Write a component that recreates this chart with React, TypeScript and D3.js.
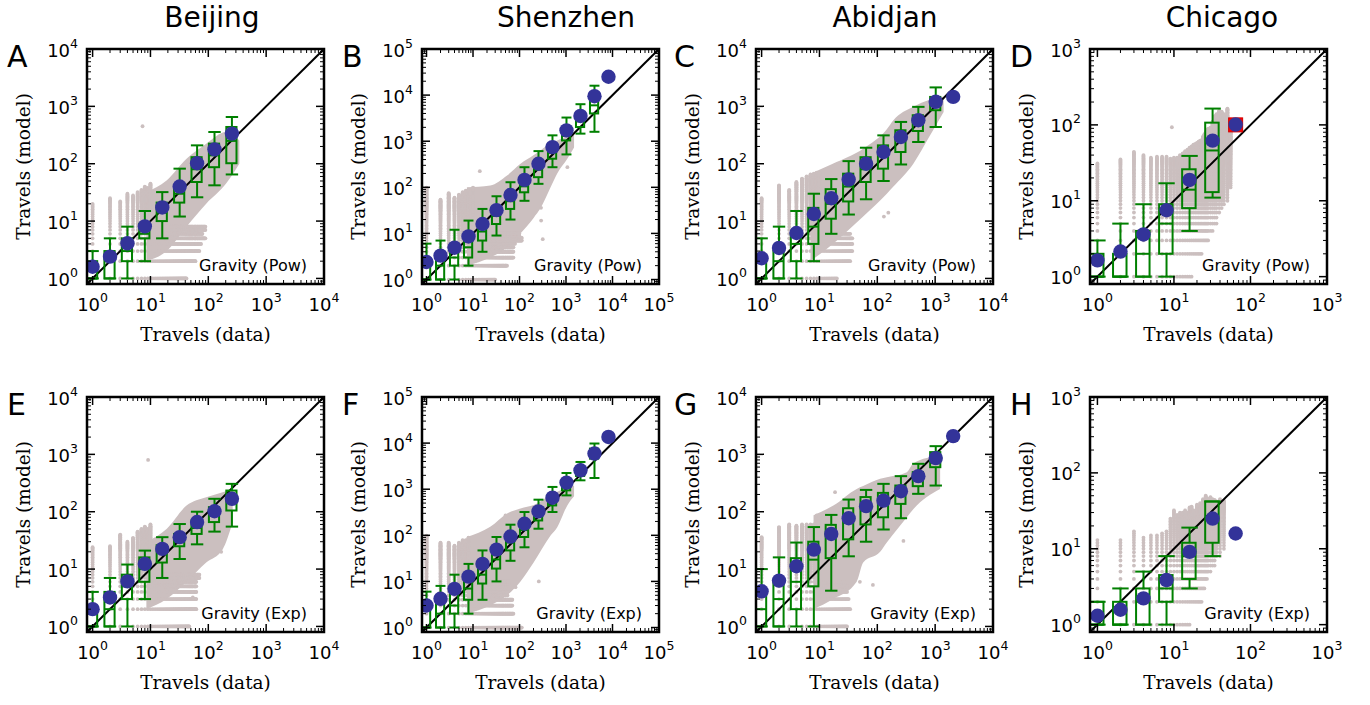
import React from "react";
import * as d3 from "d3";

type Box = [number, number, number, number, number, number]; // x, lo, q1, med, q3, hi
type P2 = [number, number];
type P3 = [number, number, number];

const cities = ["Beijing", "Shenzhen", "Abidjan", "Chicago"];
const panelLetters = ["A", "B", "C", "D", "E", "F", "G", "H"];
const modelLabels = ["Gravity (Pow)", "Gravity (Exp)"];
const cityMax = [1e4, 1e5, 1e4, 1e3];
const axisMin = 0.8;

// ---------- A: Beijing, Gravity (Pow)
const beijingPowBoxes: Box[] = [
  [1, 1, 1, 1, 2, 3], [2, 1, 1, 2, 3, 5], [4, 1, 2, 3, 5, 8], [8, 2, 5, 6, 9, 15],
  [16, 5, 10, 14, 21, 32], [32, 12, 21, 30, 42, 82], [64, 26, 48, 80, 130, 209],
  [128, 42, 87, 140, 224, 357], [256, 65, 102, 250, 437, 653],
];
const beijingPowMeans: P2[] = [[1, 1.6], [2, 2.4], [4, 4.1], [8, 8.1], [16, 17.3], [32, 40], [64, 102], [128, 178], [256, 335]];
const beijingPowCols: P3[] = [[1, 1, 20], [2, 1, 25], [3, 1, 22], [4, 1, 30], [5, 1, 28], [6, 1, 32], [7, 1, 35], [8, 1, 40], [9, 1, 38], [10, 1, 45]];
const beijingPowRows: P3[] = [[1, 1, 42], [2, 1, 60], [3, 1, 70], [4, 1, 75], [5, 1, 90], [6, 1, 80], [7, 1, 90], [8, 1, 90]];
const beijingPowCloud: P3[] = [[8.5, 2, 32], [19, 3, 51], [42, 8, 122], [92, 20, 224], [203, 45, 357], [344, 100, 255]];
const beijingPowOut: P2[] = [[7.3, 450], [88, 5]];

// ---------- B: Shenzhen, Gravity (Pow)
const shenzhenPowBoxes: Box[] = [
  [1, 1, 1, 1, 2, 6], [2, 1, 1, 2, 3, 7], [4, 1, 2, 3, 5, 12], [8, 2, 3, 5, 8, 19],
  [16, 4, 7, 11, 15, 34], [32, 9, 16, 24, 33, 64], [64, 20, 34, 50, 70, 129],
  [128, 51, 78, 105, 140, 273], [256, 119, 166, 240, 334, 610], [512, 273, 417, 560, 745, 1340],
  [1024, 517, 1040, 1300, 1720, 3260], [2048, 1460, 2030, 2700, 3660, 6350], [4096, 1600, 4000, 6000, 10000, 16000],
];
const shenzhenPowMeans: P2[] = [[1, 2.4], [2, 3.3], [4, 4.9], [8, 8.6], [16, 16], [32, 32], [64, 68], [128, 145], [256, 324], [512, 746], [1024, 1722], [2048, 3530], [4096, 9480], [8192, 25000]];
const shenzhenPowCols: P3[] = [[1, 1, 100], [2, 1, 55], [3, 1, 75], [4, 1, 60], [5, 1, 70], [6, 1, 80], [7, 1, 85], [8, 1, 90], [9, 1, 90], [10, 1, 100]];
const shenzhenPowRows: P3[] = [[1, 1, 30], [2, 1, 54], [3, 1, 75], [4, 1, 75], [5, 1, 75], [6, 1, 80], [7, 1, 113], [8, 1, 113], [9, 1, 100], [10, 1, 100]];
const shenzhenPowCloud: P3[] = [[7.4, 2, 100], [23.5, 3, 109], [54, 5, 180], [105, 10, 324], [203, 22, 500], [283, 35, 632], [466, 100, 900], [648, 200, 1040], [1067, 417, 1300], [1490, 730, 1460]];
const shenzhenPowOut: P2[] = [[292, 19], [316, 7.5], [290, 36], [1070, 273], [14, 224]];

// ---------- C: Abidjan, Gravity (Pow)
const abidjanPowBoxes: Box[] = [
  [1, 1, 1, 1, 2, 5], [2, 1, 1, 2, 3, 8], [4, 1, 2, 4, 6, 15], [8, 2, 4, 8, 17, 30],
  [16, 6, 11, 20, 36, 54], [32, 13, 22, 40, 67, 111], [64, 24, 48, 80, 130, 190],
  [128, 50, 82, 150, 209, 312], [256, 97, 160, 290, 383, 535], [512, 239, 372, 550, 700, 980],
  [1024, 437, 857, 1100, 1460, 2140],
];
const abidjanPowMeans: P2[] = [[1, 2.25], [2, 3.4], [4, 6.2], [8, 13.3], [16, 25], [32, 53], [64, 100], [128, 160], [256, 292], [512, 572], [1024, 1200], [2048, 1465]];
const abidjanPowCols: P3[] = [[1, 1, 25], [2, 1, 42], [3, 1, 35], [4, 1, 48], [5, 1, 55], [6, 1, 60], [7, 1, 65], [8, 1, 67], [9, 1, 70], [10, 1, 70]];
const abidjanPowRows: P3[] = [[1, 1, 20], [2, 1, 34], [3, 1, 37], [4, 1, 37], [5, 1, 37], [6, 1, 34]];
const abidjanPowCloud: P3[] = [[7, 2, 67], [17, 4, 100], [57, 12, 183], [146, 30, 400], [190, 40, 572], [420, 100, 980], [800, 300, 1300], [1400, 800, 1465]];
const abidjanPowOut: P2[] = [[155, 14], [130, 12]];

// ---------- D: Chicago, Gravity (Pow)
const chicagoPowBoxes: Box[] = [
  [1, 1, 1, 1, 2, 3], [2, 1, 1, 1, 2, 5], [4, 1, 1, 2, 4, 9], [8, 1, 2, 5, 9, 17],
  [16, 4, 8, 14, 26, 39], [32, 11, 13, 46, 107, 164],
];
const chicagoPowMeans: P2[] = [[1, 1.64], [2, 2.14], [4, 3.6], [8, 7.5], [16, 18.8], [32, 62], [64, 101]];
const chicagoPowCols: P3[] = [
  [1, 1, 31], [2, 1, 35], [3, 1, 44], [4, 1, 40], [5, 1, 37], [6, 1, 38], [7, 1, 38], [8, 1, 38], [9, 1, 36],
  [10, 1, 37], [11, 1, 37], [12, 1, 40], [13, 1, 42], [14, 1, 45], [15, 1, 47], [16, 1, 50], [17, 1, 52],
  [18, 2, 55], [19, 2, 56], [20, 2, 58], [21, 2, 60], [22, 2, 62], [23, 2, 63], [24, 3, 70], [25, 3, 75],
  [26, 3, 80], [27, 3, 85], [28, 3, 90], [30, 4, 93], [32, 4, 110], [34, 5, 130], [36, 5, 140], [39, 7, 155],
  [42, 8, 150], [45, 9, 140], [50, 10, 164], [55, 15, 100],
];
const chicagoPowRows: P3[] = [];
const chicagoPowCloud: P3[] = [];
const chicagoPowOut: P2[] = [[9.4, 93]];
const chicagoPowRed: P2[] = [[64, 100]];

// ---------- E: Beijing, Gravity (Exp)
const beijingExpBoxes: Box[] = [
  [1, 1, 1, 1, 2, 4], [2, 1, 1, 2, 4, 7], [4, 1, 3, 5, 8, 12], [8, 3, 6, 10, 16, 21],
  [16, 7, 13, 20, 26, 36], [32, 15, 25, 33, 41, 61], [64, 27, 41, 52, 70, 100],
  [128, 45, 66, 90, 120, 168], [256, 55, 105, 160, 234, 306],
];
const beijingExpMeans: P2[] = [[1, 2.0], [2, 3.2], [4, 6.1], [8, 12.3], [16, 22.5], [32, 36], [64, 66], [128, 102], [256, 168]];
const beijingExpCols: P3[] = [[1, 1, 24], [2, 1, 25], [3, 1, 40], [4, 1, 30], [5, 1, 35], [6, 1, 45], [7, 1, 50], [8, 1, 55], [9, 1, 50], [10, 1, 60]];
const beijingExpRows: P3[] = [[1, 1, 47], [2, 1, 62], [3, 1, 62], [4, 1, 62], [5, 1, 62], [6, 1, 62], [7, 1, 70], [8, 1, 70]];
const beijingExpCloud: P3[] = [[8.5, 2, 30], [19, 3, 50], [42, 6, 128], [92, 13, 179], [177, 22, 219], [264, 66, 250]];
const beijingExpOut: P2[] = [[9.1, 800], [54, 3.2], [167, 20]];

// ---------- F: Shenzhen, Gravity (Exp)
const shenzhenExpBoxes: Box[] = [
  [1, 1, 1, 1, 3, 6], [2, 1, 1, 2, 4, 8], [4, 1, 2, 3, 6, 14], [8, 2, 4, 7, 11, 24],
  [16, 4, 9, 14, 26, 47], [32, 10, 19, 30, 53, 92], [64, 28, 47, 70, 99, 170],
  [128, 55, 92, 130, 187, 320], [256, 139, 210, 280, 378, 593], [512, 320, 445, 560, 735, 1120],
  [1024, 735, 944, 1150, 1435, 2250], [2048, 1560, 1940, 2400, 2940, 3900], [4096, 1750, 4600, 5500, 7600, 9800],
];
const shenzhenExpMeans: P2[] = [[1, 3.0], [2, 4.2], [4, 6.9], [8, 12.7], [16, 24], [32, 49], [64, 94], [128, 178], [256, 330], [512, 655], [1024, 1390], [2048, 2570], [4096, 5930], [8192, 13600]];
const shenzhenExpCols: P3[] = [[1, 1, 100], [2, 1, 70], [3, 1, 70], [4, 1, 60], [5, 1, 70], [6, 1, 80], [7, 1, 80], [8, 1, 90]];
const shenzhenExpRows: P3[] = [[1, 1, 114], [2, 1, 75], [3, 1, 70], [4, 1, 70], [5, 1, 55], [6, 1, 55], [7, 1, 60], [8, 1, 60], [9, 1, 60], [10, 1, 60]];
const shenzhenExpCloud: P3[] = [[7.4, 2, 92], [23.5, 3, 153], [54, 5, 298], [105, 10, 383], [203, 26, 452], [466, 99, 750], [648, 150, 877], [1067, 445, 1100], [1490, 700, 1210]];
const shenzhenExpOut: P2[] = [[260, 10], [82, 7.5], [50, 270]];

// ---------- G: Abidjan, Gravity (Exp)
const abidjanExpBoxes: Box[] = [
  [1, 1, 1, 2, 4, 10], [2, 1, 1, 3, 6, 16], [4, 1, 2, 6, 15.5, 29], [8, 1, 5, 14.6, 30, 54],
  [16, 4.2, 15.5, 35, 59, 88], [32, 16.7, 33, 70, 115, 163], [64, 30, 60, 110, 180, 240],
  [128, 49, 80, 140, 213, 306], [256, 77, 137, 200, 286, 417], [512, 205, 279, 360, 490, 684],
  [1024, 286, 598, 850, 1094, 1390],
];
const abidjanExpMeans: P2[] = [[1, 4.1], [2, 6.3], [4, 11.2], [8, 21.8], [16, 41], [32, 77], [64, 125], [128, 156], [256, 228], [512, 417], [1024, 860], [2048, 2080]];
const abidjanExpCols: P3[] = [[1, 1, 36], [2, 1, 54], [3, 1, 60], [4, 1, 57], [5, 1, 60], [6, 1, 60], [7, 1, 60], [8, 1, 60], [9, 1, 86], [10, 1, 86]];
const abidjanExpRows: P3[] = [[1, 1, 30], [2, 1, 34], [3, 1, 32], [4, 1, 30], [5, 1, 30], [6, 1, 28]];
const abidjanExpCloud: P3[] = [[7.9, 2, 87], [17.4, 3, 128], [44, 6, 250], [57, 13, 280], [112, 20, 374], [146, 29, 400], [324, 80, 490], [422, 112, 700], [1220, 250, 955]];
const abidjanExpOut: P2[] = [[84, 5.3], [50, 6], [283, 31], [18.6, 219]];

// ---------- H: Chicago, Gravity (Exp)
const chicagoExpBoxes: Box[] = [
  [1, 1, 1, 1, 2, 2], [2, 1, 1, 1, 2, 3], [4, 1, 1, 2, 3, 5], [8, 1, 2, 3, 4.5, 8],
  [16, 3, 4, 8, 12, 19], [32, 8, 12, 25, 42, 42],
];
const chicagoExpMeans: P2[] = [[1, 1.31], [2, 1.57], [4, 2.22], [8, 3.87], [16, 9.1], [32, 25], [64, 15.9]];
const chicagoExpCols: P3[] = [
  [1, 1, 13], [2, 1, 13], [3, 1, 17], [4, 1, 14], [5, 1, 15], [6, 1, 15], [7, 1, 16], [8, 1, 17], [9, 1, 25],
  [10, 1, 32], [11, 1, 28], [12, 1, 30], [13, 1, 30], [14, 1, 32], [15, 1, 30], [16, 1, 35], [17, 2, 36],
  [18, 2, 32], [19, 2, 30], [20, 2, 38], [21, 2, 36], [22, 2, 40], [23, 2, 38], [24, 3, 45], [25, 3, 42],
  [26, 4, 50], [27, 4, 46], [28, 5, 45], [30, 5, 48], [32, 6, 45], [34, 6, 44], [36, 8, 42], [40, 8, 45], [45, 10, 43],
];
const chicagoExpRows: P3[] = [];
const chicagoExpCloud: P3[] = [];
const chicagoExpOut: P2[] = [];

// ---------- layout
const panelLeft = [87, 422, 756, 1090];
const rowTop = [49, 397];
const panelW = 237;
const panelH = 235;
const titleX = [212, 566, 885, 1222];
const letterX = [7, 342, 674, 1010];

const GRAY = "#cbbfbf";
const GREEN = "#008000";
const BLUE = "#333399";

interface PanelSpec {
  boxes: Box[]; means: P2[]; cols: P3[]; rows: P3[]; cloud: P3[]; out: P2[]; red?: P2[];
}

const panels: PanelSpec[] = [
  { boxes: beijingPowBoxes, means: beijingPowMeans, cols: beijingPowCols, rows: beijingPowRows, cloud: beijingPowCloud, out: beijingPowOut },
  { boxes: shenzhenPowBoxes, means: shenzhenPowMeans, cols: shenzhenPowCols, rows: shenzhenPowRows, cloud: shenzhenPowCloud, out: shenzhenPowOut },
  { boxes: abidjanPowBoxes, means: abidjanPowMeans, cols: abidjanPowCols, rows: abidjanPowRows, cloud: abidjanPowCloud, out: abidjanPowOut },
  { boxes: chicagoPowBoxes, means: chicagoPowMeans, cols: chicagoPowCols, rows: chicagoPowRows, cloud: chicagoPowCloud, out: chicagoPowOut, red: chicagoPowRed },
  { boxes: beijingExpBoxes, means: beijingExpMeans, cols: beijingExpCols, rows: beijingExpRows, cloud: beijingExpCloud, out: beijingExpOut },
  { boxes: shenzhenExpBoxes, means: shenzhenExpMeans, cols: shenzhenExpCols, rows: shenzhenExpRows, cloud: shenzhenExpCloud, out: shenzhenExpOut },
  { boxes: abidjanExpBoxes, means: abidjanExpMeans, cols: abidjanExpCols, rows: abidjanExpRows, cloud: abidjanExpCloud, out: abidjanExpOut },
  { boxes: chicagoExpBoxes, means: chicagoExpMeans, cols: chicagoExpCols, rows: chicagoExpRows, cloud: chicagoExpCloud, out: chicagoExpOut },
];

const SANS = "DejaVu Sans, sans-serif";
const SERIF = "DejaVu Serif, serif";

function isMajor(t: number) {
  const l = Math.log10(t);
  return Math.abs(l - Math.round(l)) < 1e-6;
}

function Panel({ spec, idx }: { spec: PanelSpec; idx: number }) {
  const row = Math.floor(idx / 4);
  const col = idx % 4;
  const x0 = panelLeft[col];
  const y0 = rowTop[row];
  const vmax = cityMax[col];
  const x = d3.scaleLog().domain([axisMin, vmax]).range([x0, x0 + panelW]);
  const y = d3.scaleLog().domain([axisMin, vmax]).range([y0 + panelH, y0]);
  const clipId = `clip-${idx}`;

  const seen = new Set<string>();
  const pts: P2[] = [];
  const add = (a: number, b: number) => {
    const px = x(a), py = y(b);
    const k = Math.round(px * 2) + "," + Math.round(py * 2);
    if (!seen.has(k)) { seen.add(k); pts.push([px, py]); }
  };
  spec.cols.forEach(([cx, lo, hi]) => { for (let v = Math.ceil(lo); v <= hi; v++) add(cx, v); });
  spec.rows.forEach(([ry, lo, hi]) => { for (let v = Math.ceil(lo); v <= hi; v++) add(v, ry); });
  spec.out.forEach(([a, b]) => add(a, b));

  const area = d3.area<P3>().x(d => x(d[0])).y0(d => y(d[1])).y1(d => y(d[2])).curve(d3.curveMonotoneX);
  const ticks = x.ticks();
  const bx0 = x0 + panelW, by0 = y0 + panelH;

  return (
    <g>
      <defs>
        <clipPath id={clipId}><rect x={x0} y={y0} width={panelW} height={panelH} /></clipPath>
      </defs>
      <g clipPath={`url(#${clipId})`}>
        {spec.cloud.length > 0 && <path d={area(spec.cloud) || ""} fill={GRAY} />}
        {pts.map((p, i) => <circle key={i} cx={p[0]} cy={p[1]} r={1.9} fill={GRAY} />)}
        <line x1={x(axisMin)} y1={y(axisMin)} x2={x(vmax)} y2={y(vmax)} stroke="#000" strokeWidth={2} />
        {(spec.red || []).map((r, i) => (
          <rect key={"r" + i} x={x(r[0]) - 7} y={y(r[1]) - 7} width={14} height={14} fill="#ff0000" stroke="#d00000" strokeWidth={1} />
        ))}
        {spec.boxes.map((b, i) => {
          const [cx, lo, q1, med, q3, hi] = b;
          const bl = x(cx * 0.8), br = x(cx * 1.2);
          const cl = x(cx / 1.28), cr = x(cx * 1.28);
          const xc = x(cx);
          return (
            <g key={"b" + i} stroke={GREEN} strokeWidth={2} fill="none">
              <line x1={xc} x2={xc} y1={y(hi)} y2={y(q3)} />
              <line x1={xc} x2={xc} y1={y(q1)} y2={y(lo)} />
              <line x1={cl} x2={cr} y1={y(hi)} y2={y(hi)} />
              <line x1={cl} x2={cr} y1={y(lo)} y2={y(lo)} />
              <rect x={bl} y={y(q3)} width={br - bl} height={Math.max(0, y(q1) - y(q3))} />
              <line x1={bl} x2={br} y1={y(med)} y2={y(med)} />
            </g>
          );
        })}
        {spec.means.map((m, i) => <circle key={"m" + i} cx={x(m[0])} cy={y(m[1])} r={7.2} fill={BLUE} />)}
      </g>
      {/* ticks on all sides, inward */}
      <g stroke="#000">
        {ticks.map((t, i) => {
          const L = isMajor(t) ? 8 : 4;
          const w = isMajor(t) ? 1.5 : 1;
          const px = x(t), py = y(t);
          return (
            <g key={"t" + i} strokeWidth={w}>
              <line x1={px} x2={px} y1={by0} y2={by0 - L} />
              <line x1={px} x2={px} y1={y0} y2={y0 + L} />
              <line x1={x0} x2={x0 + L} y1={py} y2={py} />
              <line x1={bx0} x2={bx0 - L} y1={py} y2={py} />
            </g>
          );
        })}
      </g>
      <rect x={x0} y={y0} width={panelW} height={panelH} fill="none" stroke="#000" strokeWidth={2.5} />
      {/* tick labels */}
      {ticks.filter(isMajor).map((t, i) => {
        const e = Math.round(Math.log10(t));
        return (
          <g key={"l" + i} fontFamily={SANS} fill="#000">
            <text x={x(t)} y={by0 + 27} textAnchor="middle" fontSize={18}>
              10<tspan dy={-9} fontSize={12.5}>{e}</tspan>
            </text>
            <text x={x0 - 9} y={y(t) + 7.5} textAnchor="end" fontSize={18}>
              10<tspan dy={-9} fontSize={12.5}>{e}</tspan>
            </text>
          </g>
        );
      })}
      <text x={bx0 - 17} y={by0 - 13} textAnchor="end" fontFamily={SANS} fontSize={16}>{modelLabels[row]}</text>
      <text x={x0 + panelW / 2} y={by0 + 57} textAnchor="middle" fontFamily={SERIF} fontSize={18.5}>Travels (data)</text>
      <text transform={`translate(${x0 - 57},${y0 + panelH / 2}) rotate(-90)`} textAnchor="middle" fontFamily={SERIF} fontSize={18.5}>Travels (model)</text>
      <text x={letterX[col]} y={row === 0 ? 67 : 415} fontFamily={SANS} fontSize={30}>{panelLetters[idx]}</text>
    </g>
  );
}

export default function App() {
  return (
    <svg width={1370} height={705} style={{ position: "absolute", left: 0, top: 0 }}>
      <rect width={1370} height={705} fill="#fff" />
      {cities.map((c, i) => (
        <text key={c} x={titleX[i]} y={27} textAnchor="middle" fontFamily={SANS} fontSize={28}>{c}</text>
      ))}
      {panels.map((p, i) => <Panel key={i} spec={p} idx={i} />)}
    </svg>
  );
}
